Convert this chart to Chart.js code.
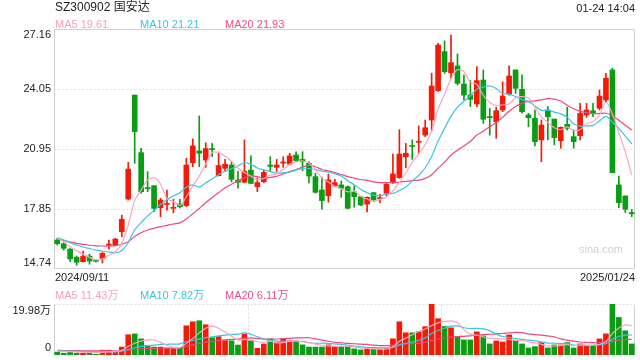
<!DOCTYPE html>
<html>
<head>
<meta charset="utf-8">
<script src="https://cdn.jsdelivr.net/npm/chart.js@4.4.1/dist/chart.umd.min.js"></script>
<style>
  body { margin: 0; background: #fff; }
  #wrap { position: relative; width: 640px; height: 360px; font-family: "Liberation Sans", Arial, "Noto Sans CJK SC", sans-serif; }
  canvas { position: absolute; left: 0; top: 0; }
  .t { position: absolute; white-space: nowrap; line-height: 14px; }
</style>
</head>
<body>
<div id="wrap">
  <canvas id="kChart" width="640" height="360"></canvas>
  <canvas id="volChart" width="640" height="360"></canvas>
</div>
<script>
// daily candles 2024/09/11 - 2025/01/24
const dates = [
  "2024/09/11","2024/09/12","2024/09/13","2024/09/18","2024/09/19","2024/09/20","2024/09/23","2024/09/24","2024/09/25","2024/09/26",
  "2024/09/27","2024/09/30","2024/10/08","2024/10/09","2024/10/10","2024/10/11","2024/10/14","2024/10/15","2024/10/16","2024/10/17",
  "2024/10/18","2024/10/21","2024/10/22","2024/10/23","2024/10/24","2024/10/25","2024/10/28","2024/10/29","2024/10/30","2024/10/31",
  "2024/11/01","2024/11/04","2024/11/05","2024/11/06","2024/11/07","2024/11/08","2024/11/11","2024/11/12","2024/11/13","2024/11/14",
  "2024/11/15","2024/11/18","2024/11/19","2024/11/20","2024/11/21","2024/11/22","2024/11/25","2024/11/26","2024/11/27","2024/11/28",
  "2024/11/29","2024/12/02","2024/12/03","2024/12/04","2024/12/05","2024/12/06","2024/12/09","2024/12/10","2024/12/11","2024/12/12",
  "2024/12/13","2024/12/16","2024/12/17","2024/12/18","2024/12/19","2024/12/20","2024/12/23","2024/12/24","2024/12/25","2024/12/26",
  "2024/12/27","2024/12/30","2024/12/31","2025/01/02","2025/01/03","2025/01/06","2025/01/07","2025/01/08","2025/01/09","2025/01/10",
  "2025/01/13","2025/01/14","2025/01/15","2025/01/16","2025/01/17","2025/01/20","2025/01/21","2025/01/22","2025/01/23","2025/01/24"
];

const opens = [
  16.24,16.05,15.77,15.35,15.12,15.41,15.16,15.29,15.98,15.98,
  16.67,18.36,23.74,20.76,18.95,19.05,17.91,18.08,17.88,18.10,
  18.02,20.24,20.85,20.38,20.96,19.57,19.95,20.12,19.35,19.23,
  19.86,19.00,19.26,20.12,20.00,20.22,20.17,20.64,20.41,20.21,
  19.52,18.83,18.53,19.04,19.09,19.00,18.74,18.48,18.10,18.69,
  18.38,18.66,19.26,19.47,20.55,21.12,21.30,21.67,22.45,23.97,
  25.99,24.90,25.25,24.31,23.74,23.28,24.52,22.63,22.36,22.97,
  23.80,25.04,24.04,22.71,22.54,21.42,22.97,22.50,21.38,22.23,
  21.59,21.64,22.71,22.93,23.06,23.49,25.04,19.09,18.52,17.66
];
const highs = [
  16.33,16.10,15.80,15.41,15.67,15.51,15.24,15.59,16.24,16.33,
  17.53,20.26,23.74,20.99,19.78,19.05,18.40,18.83,18.35,18.35,
  20.47,21.47,22.66,21.27,21.24,20.79,20.41,20.29,19.81,21.42,
  20.60,19.45,19.86,20.55,20.41,20.55,20.73,20.81,20.81,20.29,
  19.69,19.50,19.66,19.38,19.30,19.04,19.04,18.48,18.48,18.69,
  18.60,19.17,20.69,21.95,21.24,21.42,22.14,22.45,24.87,26.42,
  26.55,26.85,25.87,24.78,24.49,25.21,25.04,23.06,23.11,24.43,
  25.25,25.04,24.78,22.80,22.97,22.45,23.14,22.50,22.10,23.11,
  21.93,23.31,23.31,23.31,24.00,24.87,25.13,19.55,18.52,17.83
];
const lows = [
  15.98,15.72,15.12,14.93,15.09,14.99,15.09,15.05,15.76,15.94,
  16.41,18.31,20.21,18.66,18.74,17.71,17.45,17.79,17.65,17.90,
  17.97,20.03,20.03,20.00,20.55,19.55,19.80,19.25,18.92,19.20,
  19.17,18.74,19.21,19.78,19.78,20.00,20.12,20.29,19.83,19.19,
  18.66,17.84,18.20,19.00,18.45,17.85,17.94,18.02,17.70,18.31,
  18.17,18.53,19.17,19.43,19.97,20.41,20.73,21.59,21.90,23.93,
  24.86,24.61,24.26,23.49,23.14,23.14,22.28,21.67,21.50,22.88,
  23.74,23.83,22.80,22.10,21.11,20.29,21.42,21.16,20.99,21.93,
  20.99,21.42,22.59,22.62,22.97,23.40,19.72,17.91,17.66,17.45
];
const closes = [
  16.05,15.81,15.26,15.09,15.39,15.15,15.14,15.55,16.02,16.29,
  17.31,19.91,21.85,18.74,18.90,17.88,18.31,18.10,17.90,17.96,
  20.12,21.11,20.73,20.97,20.92,20.09,20.16,19.38,19.23,19.80,
  19.17,19.21,19.74,20.05,20.12,20.28,20.59,20.35,20.29,19.55,
  18.71,18.28,19.35,19.21,18.92,17.88,18.48,18.05,18.45,18.31,
  18.40,19.12,19.66,20.69,20.73,21.08,21.34,22.05,24.21,26.33,
  24.95,25.42,24.35,23.74,23.52,24.49,22.49,22.57,22.93,23.69,
  24.73,24.09,22.88,22.57,21.33,22.19,22.62,21.54,22.07,22.02,
  21.33,22.79,22.97,22.79,23.69,24.61,19.72,18.17,17.83,17.60
];

// moving averages as shown on the chart
const ma5 = [
  16.33,16.15,15.89,15.69,15.52,15.34,15.21,15.26,15.45,15.63,
  16.06,17.02,18.28,18.82,19.34,19.46,19.14,18.39,18.22,18.03,
  18.48,19.04,19.56,20.18,20.77,20.76,20.58,20.31,19.95,19.73,
  19.55,19.36,19.43,19.59,19.66,19.88,20.16,20.28,20.33,20.21,
  19.90,19.44,19.24,19.02,18.89,18.73,18.77,18.51,18.36,18.23,
  18.34,18.47,18.79,19.24,19.72,20.26,20.70,21.18,21.88,23.00,
  23.78,24.59,25.05,24.96,24.40,24.30,23.72,23.36,23.20,23.23,
  23.28,23.60,23.66,23.59,23.12,22.61,22.32,22.05,21.95,22.09,
  21.92,21.95,22.24,22.38,22.71,23.37,22.76,21.80,20.80,19.61
];
const ma10 = [
  16.36,16.24,16.10,15.98,15.88,15.80,15.72,15.66,15.62,15.58,
  15.70,16.11,16.77,17.14,17.49,17.76,18.08,18.33,18.52,18.69,
  18.97,19.09,18.98,19.20,19.40,19.62,19.80,19.93,20.07,20.25,
  20.16,19.97,19.87,19.78,19.70,19.72,19.76,19.86,19.95,19.94,
  19.89,19.80,19.76,19.67,19.55,19.31,19.10,18.87,18.69,18.56,
  18.53,18.62,18.65,18.80,18.98,19.30,19.58,19.98,20.56,21.36,
  22.02,22.65,23.12,23.42,23.70,24.04,24.16,24.21,24.08,23.82,
  23.79,23.66,23.51,23.40,23.18,22.95,22.96,22.86,22.77,22.60,
  22.26,22.13,22.14,22.17,22.40,22.64,22.35,22.02,21.62,21.21
];
const ma20 = [
  16.33,16.22,16.13,16.07,16.01,15.97,15.94,15.93,15.93,15.95,
  16.02,16.15,16.42,16.62,16.76,16.85,16.93,17.00,17.07,17.13,
  17.33,17.60,17.87,18.17,18.44,18.69,18.94,19.13,19.29,19.46,
  19.56,19.52,19.42,19.48,19.54,19.66,19.78,19.89,20.01,20.10,
  20.03,19.89,19.82,19.73,19.63,19.52,19.44,19.37,19.33,19.25,
  19.21,19.21,19.20,19.23,19.27,19.31,19.34,19.43,19.62,19.96,
  20.27,20.63,20.88,21.11,21.34,21.67,21.87,22.10,22.32,22.59,
  22.90,23.15,23.31,23.41,23.44,23.49,23.56,23.53,23.43,23.21,
  23.03,22.90,22.83,22.78,22.79,22.80,22.66,22.44,22.18,21.93
];

// volume in 万
const volumes = [
  1.10,0.70,1.35,0.70,0.70,0.70,0.30,1.90,1.90,1.40,
  3.10,7.95,8.27,6.31,3.70,3.10,3.10,2.65,2.50,2.75,
  11.45,13.02,13.42,11.84,6.75,7.20,5.62,5.55,3.90,8.27,
  5.62,2.64,4.30,6.30,4.90,6.35,5.55,5.30,3.97,3.10,
  3.10,3.10,3.97,3.31,3.31,3.04,2.38,1.99,2.38,2.38,
  2.38,2.64,6.35,13.02,8.70,8.70,9.10,11.10,19.90,14.22,
  11.15,10.64,7.23,5.91,5.91,9.07,7.49,4.34,5.52,5.12,
  7.88,5.65,4.34,2.76,3.29,4.86,2.76,3.94,3.94,4.86,
  2.76,4.34,3.55,3.81,6.31,8.28,19.98,14.72,9.46,4.34
];
const vma5 = [
  1.50,1.40,1.30,1.20,1.08,1.00,0.95,1.05,1.26,1.42,
  1.87,3.34,4.60,5.47,5.89,5.89,4.94,3.81,3.07,2.89,
  4.55,6.52,8.67,10.51,11.30,10.46,8.99,7.41,5.83,6.12,
  5.81,5.20,4.97,5.42,4.73,4.86,5.44,5.63,5.18,4.86,
  4.26,3.81,3.55,3.42,3.42,3.37,3.18,2.79,2.60,2.42,
  2.29,2.34,3.21,5.34,6.62,7.91,9.22,10.19,11.54,12.61,
  13.09,13.38,12.59,9.83,8.17,7.75,7.12,6.54,6.47,6.31,
  6.07,5.70,5.70,5.15,4.78,4.18,3.60,3.52,3.76,4.07,
  3.65,3.97,3.89,3.86,4.15,5.26,8.39,10.62,11.75,11.43
];
const vma10 = [
  1.60,1.55,1.50,1.45,1.40,1.35,1.30,1.30,1.27,1.25,
  1.43,2.14,2.83,3.36,3.65,3.88,4.14,4.20,4.27,4.39,
  5.22,5.73,6.24,6.79,7.09,7.50,7.75,8.04,8.17,8.71,
  8.13,7.10,6.19,5.63,5.43,5.34,5.32,5.30,5.30,4.80,
  4.56,4.63,4.59,4.30,4.14,3.81,3.50,3.17,3.01,2.92,
  2.83,2.76,3.00,3.97,4.52,5.10,5.78,6.70,8.44,9.62,
  10.50,11.30,11.39,10.68,10.39,10.42,10.25,9.57,8.15,7.24,
  6.91,6.41,6.12,5.81,5.55,5.13,4.65,4.61,4.45,4.43,
  3.92,3.79,3.71,3.81,4.11,4.46,6.18,7.26,7.81,7.82
];
const vma20 = [
  1.80,1.75,1.70,1.70,1.65,1.60,1.60,1.60,1.60,1.65,
  1.75,2.00,2.25,2.45,2.55,2.60,2.65,2.70,2.75,2.82,
  3.32,3.94,4.53,5.08,5.37,5.69,5.95,6.12,6.22,6.55,
  6.67,6.41,6.22,6.21,6.26,6.42,6.54,6.67,6.73,6.75,
  6.35,5.86,5.39,4.96,4.79,4.57,4.41,4.23,4.15,3.86,
  3.70,3.70,3.79,4.13,4.33,4.46,4.64,4.94,5.72,6.27,
  6.66,7.03,7.20,7.33,7.46,7.76,8.02,8.13,8.29,8.43,
  8.70,8.86,8.76,8.25,7.97,7.77,7.45,7.09,6.30,5.83,
  5.41,5.10,4.91,4.81,4.83,4.79,5.41,5.93,6.13,6.11
];

// axis ticks and header texts
const priceTicks = [27.16, 24.05, 20.95, 17.85, 14.74];
const volTicks = [19.98, 0];
const volTickLabels = ["19.98万", "0"];
const titleText = "SZ300902 国安达";
const timeText = "01-24 14:04";
const maLegend = ["MA5 19.61", "MA10 21.21", "MA20 21.93"];
const volLegend = ["MA5 11.43万", "MA10 7.82万", "MA20 6.11万"];

const RED = "#f21a08";
const GREEN = "#0a9c12";
const MA_COLORS = ["#f9a5c2", "#3cc3de", "#ea4a7e"];
const LEGEND_COLORS = ["#f8a0c0", "#3bc4e2", "#ee4c82"];

const candleColors = closes.map((c, i) => (c >= opens[i] ? RED : GREEN));

// frame, grid lines and tick labels drawn from the chart's own scales
const panelPlugin = {
  id: "panel",
  beforeDatasetsDraw(chart, args, opts) {
    const { ctx, chartArea: a } = chart;
    const y = chart.scales.y;
    const L = Math.floor(a.left) + 0.5, R = Math.ceil(a.right) - 0.5;
    const T = Math.floor(a.top) + 0.5, B = Math.ceil(a.bottom) - 0.5;
    ctx.save();
    ctx.lineWidth = 1;

    ctx.strokeStyle = "#dedede";
    ctx.setLineDash([2, 2]);
    opts.ticks.forEach((v) => {
      const py = Math.round(y.getPixelForValue(v)) + 0.5;
      if (py > T + 1 && py < B - 1) hLine(ctx, L, R, py);
    });
    if (opts.dottedEdges) {
      hLine(ctx, L, R, T);
      hLine(ctx, L, R, B);
      [1, 2].forEach((k) => {
        const px = Math.round(a.left + (a.width * k) / 3) + 0.5;
        ctx.beginPath(); ctx.moveTo(px, T); ctx.lineTo(px, B); ctx.stroke();
      });
    }

    ctx.setLineDash([]);
    ctx.strokeStyle = "#cfcfcf";
    ctx.beginPath();
    ctx.moveTo(L, T); ctx.lineTo(L, B);
    ctx.moveTo(R, T); ctx.lineTo(R, B);
    if (!opts.dottedEdges) {
      ctx.moveTo(L, T); ctx.lineTo(R, T);
      ctx.moveTo(L, B); ctx.lineTo(R, B);
    }
    ctx.stroke();
    ctx.restore();
  },
  afterDraw(chart, args, opts) {
    const { ctx, chartArea: a } = chart;
    const y = chart.scales.y;
    ctx.save();
    ctx.font = '11px "Liberation Sans", Arial, "Noto Sans CJK SC", sans-serif';
    ctx.fillStyle = "#222";
    ctx.textAlign = "right";
    ctx.textBaseline = "middle";
    opts.ticks.forEach((v, i) => {
      let py = y.getPixelForValue(v);
      py = Math.min(Math.max(py, a.top + opts.inset), a.bottom - opts.inset);
      ctx.fillText(opts.labels[i], a.left - 3, py);
    });
    if (opts.dates) {
      ctx.textAlign = "left";
      ctx.fillText(opts.dates[0], a.left + 1, a.bottom + 9);
      ctx.textAlign = "right";
      ctx.fillText(opts.dates[opts.dates.length - 1], a.right, a.bottom + 9);
    }
    ctx.restore();
  }
};

function hLine(ctx, x0, x1, y) {
  ctx.beginPath();
  ctx.moveTo(x0, y);
  ctx.lineTo(x1, y);
  ctx.stroke();
}

function maDataset(data, color) {
  return {
    type: "line",
    data: data,
    borderColor: color,
    borderWidth: 1.2,
    pointRadius: 0,
    tension: 0.3,
    order: 0
  };
}

const xScale = { type: "category", offset: true, display: false, grid: { display: false } };

// price chart
new Chart(document.getElementById("kChart"), {
  type: "bar",
  data: {
    labels: dates,
    datasets: [
      maDataset(ma5, MA_COLORS[0]),
      maDataset(ma10, MA_COLORS[1]),
      maDataset(ma20, MA_COLORS[2]),
      {
        data: opens.map((o, i) => [o, closes[i]]),
        backgroundColor: candleColors,
        barThickness: 5,
        minBarLength: 1,
        grouped: false,
        order: 1
      },
      {
        data: lows.map((l, i) => [l, highs[i]]),
        backgroundColor: candleColors,
        barThickness: 1,
        grouped: false,
        order: 2
      }
    ]
  },
  options: {
    responsive: false,
    animation: false,
    events: [],
    layout: { padding: { left: 54, right: 5, top: 29, bottom: 91 } },
    scales: {
      x: xScale,
      y: { display: false, min: priceTicks[priceTicks.length - 1], max: priceTicks[0] }
    },
    plugins: {
      legend: { display: false },
      tooltip: { enabled: false },
      panel: {
        ticks: priceTicks,
        labels: priceTicks.map((v) => v.toFixed(2)),
        inset: 6,
        dottedEdges: false,
        dates: dates
      }
    }
  },
  plugins: [panelPlugin]
});

// volume chart
new Chart(document.getElementById("volChart"), {
  type: "bar",
  data: {
    labels: dates,
    datasets: [
      maDataset(vma5, MA_COLORS[0]),
      maDataset(vma10, MA_COLORS[1]),
      maDataset(vma20, MA_COLORS[2]),
      {
        data: volumes,
        backgroundColor: candleColors,
        barThickness: 5,
        order: 1
      }
    ]
  },
  options: {
    responsive: false,
    animation: false,
    events: [],
    layout: { padding: { left: 54, right: 5, top: 304, bottom: 5 } },
    scales: {
      x: xScale,
      y: { display: false, min: 0, max: volTicks[0] }
    },
    plugins: {
      legend: { display: false },
      tooltip: { enabled: false },
      panel: {
        ticks: volTicks,
        labels: volTickLabels,
        inset: 7,
        dottedEdges: true
      }
    }
  },
  plugins: [panelPlugin]
});

// header texts
const wrap = document.getElementById("wrap");
function addText(text, css) {
  const d = document.createElement("div");
  d.className = "t";
  d.textContent = text;
  Object.assign(d.style, css);
  wrap.appendChild(d);
}
addText(titleText, { left: "55px", top: "0px", fontSize: "12px", color: "#222" });
addText(timeText, { right: "5px", top: "1px", fontSize: "11px", color: "#222" });
const legendX = [55, 140, 225];
maLegend.forEach((s, i) => addText(s, { left: legendX[i] + "px", top: "17px", fontSize: "11px", color: LEGEND_COLORS[i] }));
volLegend.forEach((s, i) => addText(s, { left: legendX[i] + "px", top: "288px", fontSize: "11px", color: LEGEND_COLORS[i] }));
addText("sina.com", { right: "17px", top: "242px", fontSize: "11px", color: "#cfcfcf" });
</script>
</body>
</html>
